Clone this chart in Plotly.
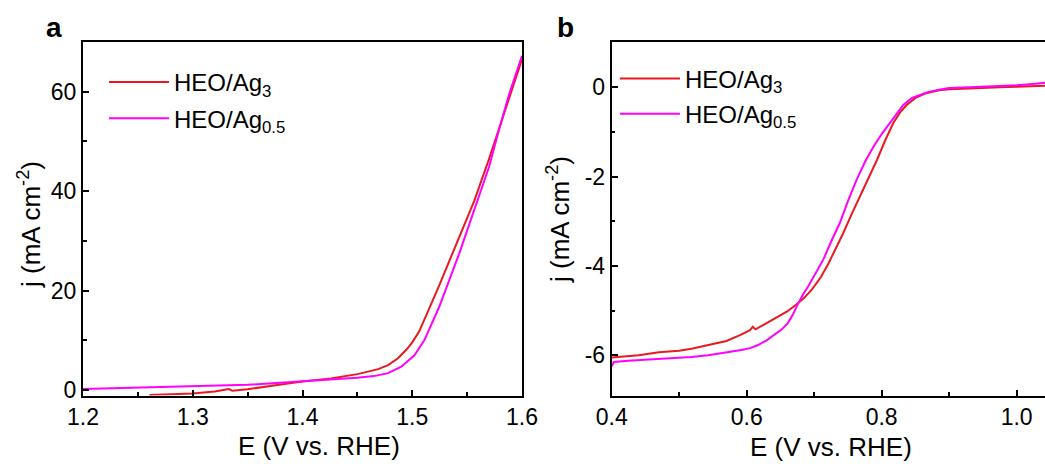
import plotly.graph_objects as go

# ---------------- data: panel a (OER LSV) ----------------
a_ag3_E = [1.2606, 1.28, 1.30, 1.32, 1.330, 1.333, 1.336, 1.340, 1.350, 1.377, 1.400, 1.426,
           1.450, 1.469, 1.478, 1.487, 1.495, 1.500, 1.5064, 1.5245, 1.5427, 1.5564, 1.570,
           1.588, 1.600]
a_ag3_j = [-1.0, -0.9, -0.7, -0.3, 0.05, 0.2, -0.15, -0.05, 0.15, 1.0, 1.7, 2.3,
           3.2, 4.2, 5.0, 6.4, 8.2, 9.6, 11.8, 21.0, 30.5, 38.0, 46.5,
           58.5, 66.5]

a_ag05_E = [1.200, 1.25, 1.30, 1.35, 1.40, 1.43, 1.45, 1.465, 1.478, 1.490, 1.502, 1.511,
            1.5245, 1.5427, 1.5609, 1.570, 1.579, 1.588, 1.600]
a_ag05_j = [0.2, 0.45, 0.7, 1.05, 1.75, 2.15, 2.45, 2.8, 3.4, 4.7, 7.0, 10.0,
            16.7, 27.4, 38.9, 44.9, 52.3, 59.3, 67.2]

# ---------------- data: panel b (ORR LSV) ----------------
b_ag3_E = [0.400, 0.42, 0.44, 0.47, 0.50, 0.52, 0.545, 0.57, 0.59, 0.605, 0.609, 0.613,
           0.625, 0.642, 0.66, 0.674, 0.685, 0.697, 0.71, 0.72, 0.73, 0.743, 0.755,
           0.768, 0.78, 0.793, 0.805, 0.817, 0.827, 0.837, 0.85, 0.867, 0.885, 0.90,
           0.93, 0.95, 0.975, 1.0, 1.02, 1.045]
b_ag3_j = [-6.05, -6.02, -6.0, -5.93, -5.9, -5.85, -5.77, -5.68, -5.55, -5.44, -5.36, -5.42,
           -5.32, -5.17, -5.02, -4.86, -4.72, -4.52, -4.25, -3.98, -3.68, -3.27, -2.86,
           -2.45, -2.04, -1.63, -1.2, -0.81, -0.57, -0.4, -0.24, -0.13, -0.07, -0.045,
           -0.03, -0.01, 0.0, 0.01, 0.02, 0.03]

b_ag05_E = [0.400, 0.403, 0.424, 0.445, 0.469, 0.49, 0.518, 0.543, 0.565, 0.592, 0.605,
            0.617, 0.63, 0.642, 0.652, 0.661, 0.668, 0.676, 0.683, 0.691, 0.70, 0.7135,
            0.725, 0.738, 0.75, 0.763, 0.775, 0.788, 0.80, 0.812, 0.822, 0.832, 0.845,
            0.867, 0.885, 0.90, 0.93, 0.95, 0.975, 1.0, 1.024, 1.045]
b_ag05_j = [-6.25, -6.15, -6.12, -6.1, -6.09, -6.07, -6.04, -6.0, -5.95, -5.88, -5.84,
            -5.77, -5.66, -5.54, -5.42, -5.28, -5.1, -4.85, -4.65, -4.46, -4.22, -3.86,
            -3.46, -3.04, -2.55, -2.07, -1.68, -1.33, -1.05, -0.81, -0.6, -0.4, -0.24,
            -0.12, -0.06, -0.02, 0.0, 0.01, 0.03, 0.04, 0.07, 0.1]

name_ag3 = "HEO/Ag<sub>3</sub>"
name_ag05 = "HEO/Ag<sub>0.5</sub>"
x_title = "E (V vs. RHE)"
y_title = "j (mA cm<sup>-2</sup>)"

RED = "#ea1820"
MAG = "#ff00ff"
FONT = "Liberation Sans, Arial, sans-serif"

fig = go.Figure()
fig.add_trace(go.Scatter(x=a_ag3_E, y=a_ag3_j, mode="lines", name=name_ag3,
                         line=dict(color=RED, width=2), legend="legend", legendgroup="a1",
                         xaxis="x", yaxis="y"))
fig.add_trace(go.Scatter(x=a_ag05_E, y=a_ag05_j, mode="lines", name=name_ag05,
                         line=dict(color=MAG, width=2), legend="legend", legendgroup="a2",
                         xaxis="x", yaxis="y"))
fig.add_trace(go.Scatter(x=b_ag3_E, y=b_ag3_j, mode="lines", name=name_ag3,
                         line=dict(color=RED, width=2), legend="legend2", legendgroup="b1",
                         xaxis="x2", yaxis="y2"))
fig.add_trace(go.Scatter(x=b_ag05_E, y=b_ag05_j, mode="lines", name=name_ag05,
                         line=dict(color=MAG, width=2), legend="legend2", legendgroup="b2",
                         xaxis="x2", yaxis="y2"))

W, H = 1045, 464
ydom = [1 - 395.5 / H, 1 - 42 / H]

common_axis = dict(showline=True, linecolor="black", linewidth=2, ticks="inside",
                   ticklen=6, tickwidth=1.5, tickcolor="black", showgrid=False,
                   zeroline=False, automargin=False,
                   tickfont=dict(family=FONT, size=23, color="black"))
minor_common = dict(ticks="inside", ticklen=3.5, tickwidth=1.5, tickcolor="black")

fig.update_layout(
    template="none",
    width=W, height=H, margin=dict(l=0, r=0, t=0, b=0, pad=0), autosize=False,
    paper_bgcolor="white", plot_bgcolor="white",
    font=dict(family=FONT, color="black"),
    xaxis=dict(domain=[83 / W, 522 / W], range=[1.2, 1.6], tickvals=[1.2, 1.3, 1.4, 1.5, 1.6],
               ticktext=["1.2", "1.3", "1.4", "1.5", "1.6"], mirror=True,
               minor=dict(dtick=0.05, **minor_common), anchor="y", **common_axis),
    yaxis=dict(domain=ydom, range=[-1.1, 70], tickvals=[0, 20, 40, 60], mirror=True,
               minor=dict(dtick=10, **minor_common), anchor="x", **common_axis),
    xaxis2=dict(domain=[611.7 / W, 1.0], range=[0.4, 1.042], tickvals=[0.4, 0.6, 0.8, 1.0],
                ticktext=["0.4", "0.6", "0.8", "1.0"], mirror=True,
                minor=dict(dtick=0.1, **minor_common), anchor="y2", **common_axis),
    yaxis2=dict(domain=ydom, range=[-6.9, 1.01], tickvals=[-6, -4, -2, 0], mirror=False,
                ticktext=["-6", "-4", "-2", "0"],
                minor=dict(dtick=1, **minor_common), anchor="x2", **common_axis),
    legend=dict(x=104 / W, y=1 - 60 / H, xanchor="left", yanchor="top",
                bgcolor="rgba(0,0,0,0)", font=dict(family=FONT, size=24, color="black"),
                tracegroupgap=2, itemwidth=60),
    legend2=dict(x=615 / W, y=1 - 56.5 / H, xanchor="left", yanchor="top",
                 bgcolor="rgba(0,0,0,0)", font=dict(family=FONT, size=24, color="black"),
                 tracegroupgap=1, itemwidth=60),
    showlegend=True,
)

def txt(text, x, y, size, angle=0):
    return dict(text=text, x=x / W, y=1 - y / H, xref="paper", yref="paper",
                xanchor="center", yanchor="middle", textangle=angle,
                showarrow=False, font=dict(family=FONT, size=size, color="black"))

ann = [
    txt("<b>a</b>", 54, 28, 28),
    txt("<b>b</b>", 565, 27, 28),
    txt(x_title, 319, 446, 26),
    txt(x_title, 831, 447, 26),
    txt(y_title, 29, 225, 26, -90),
    txt(y_title, 558, 220, 26, -90),
]
fig.update_layout(annotations=ann)

fig.write_html("out.html")
